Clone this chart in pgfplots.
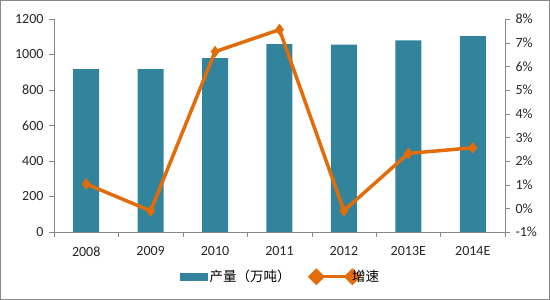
\documentclass[border=0pt]{standalone}
\usepackage{fontspec}
\setmainfont{Carlito}
\newfontfamily\cjk{Noto Sans CJK SC}
\usepackage{pgfplots}
\pgfplotsset{compat=1.18}
\definecolor{barc}{HTML}{31849B}
\definecolor{linec}{HTML}{E36C0A}
\definecolor{axc}{HTML}{888888}
\begin{document}
\begin{tikzpicture}[x=1pt,y=1pt]
\useasboundingbox (0,0) rectangle (550,300);
\draw[axc,line width=1pt] (0.5,0.5) rectangle (549.5,299.5);
\begin{axis}[
  at={(54pt,68pt)}, anchor=south west,
  scale only axis, width=451pt, height=213pt,
  xmin=-0.5, xmax=6.5, ymin=0, ymax=1200,
  ytick={0,200,...,1200},
  xtick={0,...,6},
  xticklabels={2008,2009,2010,2011,2012,2013E,2014E},
  minor xtick={-0.5,0.5,...,6.5},
  axis y line*=left, axis x line*=bottom,
  axis line style={axc,-},
  tick style={axc},
  major x tick style={draw=none},
  minor tick length=5pt, major tick length=5pt,
  tick align=outside,
  /pgf/number format/assume math mode=true,
  /pgf/number format/1000 sep={},
  ticklabel style={font=\fontsize{14}{16}\selectfont, text=black!85},
  xticklabel style={yshift=-6pt},
  yticklabel style={xshift=-2pt},
]
\addplot[ybar, bar width=26pt, bar shift=0pt, fill=barc, draw=none]
coordinates {(0,918) (1,918) (2,980) (3,1058) (4,1056) (5,1080) (6,1103)};
\end{axis}
\begin{axis}[
  at={(54pt,68pt)}, anchor=south west,
  scale only axis, width=451pt, height=213pt,
  xmin=-0.5, xmax=6.5, ymin=-1, ymax=8,
  ytick={-1,0,...,8},
  yticklabel={\pgfmathprintnumber{\tick}\%},
  axis y line*=right, axis x line=none,
  axis line style={axc,-},
  tick style={axc},
  major tick length=5pt,
  tick align=outside,
  /pgf/number format/assume math mode=true,
  ticklabel style={font=\fontsize{14}{16}\selectfont, text=black!85},
  yticklabel style={xshift=2pt},
  legend style={at={(0.502,-0.21)}, anchor=center, draw=none, fill=none,
    legend columns=2, font=\cjk\fontsize{13.5}{15}\selectfont,
    /tikz/every even column/.append style={column sep=16pt}},
  legend cell align=left,
]
\addlegendimage{area legend, fill=barc, draw=none,
  legend image code/.code={\fill[barc] (0pt,-4pt) rectangle (28pt,4pt);}}
\addlegendentry{产量（万吨）}
\addplot[linec, line width=3.5pt, mark=diamond*, mark size=5.5pt,
  mark options={line width=0.5pt},
  legend image code/.code={
    \draw[linec, line width=3.5pt] (0pt,0pt) -- (36pt,0pt);
    \fill[linec] (0pt,0pt) +(-6pt,0) -- +(0,6pt) -- +(6pt,0) -- +(0,-6pt) -- cycle;
    \fill[linec] (36pt,0pt) +(-6pt,0) -- +(0,6pt) -- +(6pt,0) -- +(0,-6pt) -- cycle;}]
coordinates {(0,1.03) (1,-0.11) (2,6.62) (3,7.55) (4,-0.10) (5,2.32) (6,2.56)};
\addlegendentry{\hspace*{-10pt}增速}
\end{axis}
\end{tikzpicture}
\end{document}
